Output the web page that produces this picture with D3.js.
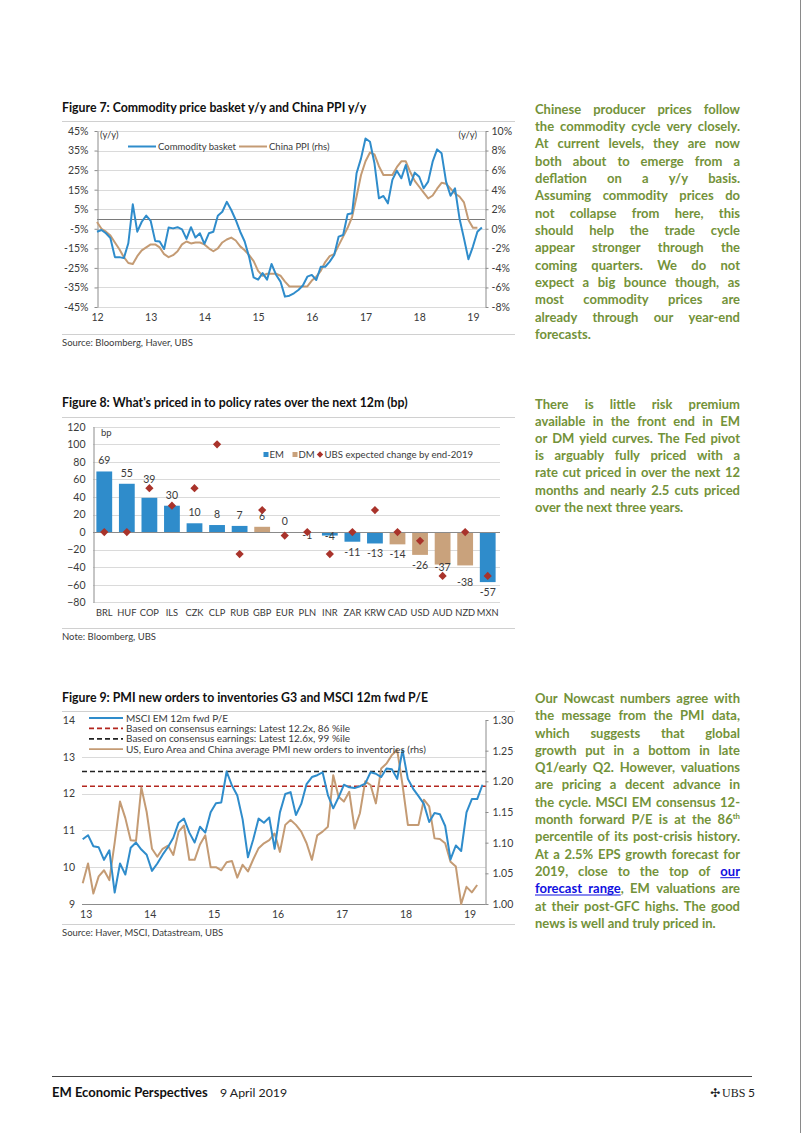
<!DOCTYPE html>
<html><head><meta charset="utf-8">
<script src="https://cdn.jsdelivr.net/npm/d3@7"></script>
<style>
body{margin:0;background:#fff}
svg{display:block}
</style></head><body>
<svg id="page" width="802" height="1133"></svg>
<script>
// ---------------- DATA ----------------
// Figure 7 (monthly, Jan 2012 onward)
const fig7Years = ["12","13","14","15","16","17","18","19"];
const fig7LeftTicks = [45,35,25,15,5,-5,-15,-25,-35,-45];
const fig7RightTicks = [10,8,6,4,2,0,-2,-4,-6,-8];
const commodityBasket = [
 -6.5,-5.6,-7.3,-9.8,-19.5,-19.5,-20,-12.4,7.5,-6.5,-1.4,1.7,
 -1,-11.2,-11.5,-15.3,-4.4,-4.8,-4.2,-5.3,-10.2,-4.2,-9.5,-7.3,
 -12.7,-7.3,-6.5,1.7,3.7,8.8,4.6,-0.5,-6.5,-11.5,-19.5,-29.9,
 -31,-27.7,-31,-23,-28.5,-32,-39.7,-39.2,-38,-36.3,-34,-29.5,
 -28.6,-31.2,-24.4,-24.4,-21.8,-18.4,-9,-8.2,2.4,2.9,23.4,31,
 41.2,39.5,28.5,10.6,11.8,8,20,24.7,20.8,27.6,17.4,23.7,
 21.6,15.7,19.1,29.3,35.6,33.6,19.1,11.9,15.7,0.3,-9.9,-20.6,
 -14.1,-6.5,-4.3];
const chinaPPI = [
 0.7,0.0,-0.3,-0.7,-1.4,-2.1,-2.9,-3.5,-3.6,-2.8,-2.2,-1.9,
 -1.6,-1.6,-1.9,-2.6,-2.9,-2.7,-2.3,-1.6,-1.3,-1.5,-1.4,-1.4,
 -1.6,-2.0,-2.3,-2.0,-1.4,-1.1,-0.9,-1.2,-1.8,-2.2,-2.7,-3.3,
 -4.3,-4.8,-4.6,-4.6,-4.6,-4.8,-5.4,-5.9,-5.9,-5.9,-5.9,-5.9,
 -5.3,-4.9,-4.3,-3.4,-2.8,-2.6,-1.7,-0.8,0.1,1.2,3.3,5.5,
 6.9,7.8,7.6,6.4,5.5,5.5,5.5,6.3,6.9,6.9,5.8,4.9,
 4.3,3.7,3.1,3.4,4.1,4.7,4.6,4.1,3.6,3.3,2.7,0.9,
 0.1,0.1];

// Figure 8
const fig8Categories = ["BRL","HUF","COP","ILS","CZK","CLP","RUB","GBP","EUR","PLN","INR","ZAR","KRW","CAD","USD","AUD","NZD","MXN"];
const fig8Priced = [69,55,39,30,10,8,7,6,0,-1,-4,-11,-13,-14,-26,-37,-38,-57];
const fig8Group  = ["EM","EM","EM","EM","EM","EM","EM","DM","DM","EM","EM","EM","EM","DM","DM","DM","DM","EM"];
const fig8UBS    = [0,0,50,30,50,100,-25,25,-4,0,-25,0,25,0,-10,-50,0,-50];
const fig8Ticks  = [120,100,80,60,40,20,0,-20,-40,-60,-80];

// Figure 9 (monthly, Jan 2013 onward)
const fig9Years = ["13","14","15","16","17","18","19"];
const fig9LeftTicks = [14,13,12,11,10,9];
const fig9RightTicks = [1.30,1.25,1.20,1.15,1.10,1.05,1.00];
const msciPE = [
 10.76,10.87,10.57,10.54,10.2,10.46,9.31,10.1,9.8,10.53,10.67,10.48,
 10.34,9.9,10.1,10.34,10.55,10.8,11.21,11.32,10.94,10.67,11.1,10.94,
 11.49,11.74,11.76,12.6,12.22,11.95,11.3,10.27,10.76,11.32,11.21,11.35,
 10.5,11.49,11.99,12.04,11.42,11.72,12.26,12.45,12.5,12.58,11.96,11.6,
 11.9,12.24,12.17,12.15,12.2,12.27,12.58,12.54,12.45,12.68,12.66,12.4,
 13.18,12.4,12.13,11.93,11.72,11.23,11.47,11.44,11.12,10.21,10.59,10.44,
 11.49,11.85,11.85,12.24];
const pmiRatio = [
 1.034,1.066,1.017,1.045,1.055,1.039,1.10,1.167,1.14,1.104,1.103,1.19,
 1.15,1.09,1.077,1.09,1.095,1.08,1.118,1.128,1.072,1.072,1.097,1.112,
 1.06,1.06,1.055,1.068,1.07,1.043,1.064,1.053,1.073,1.091,1.099,1.104,
 1.115,1.085,1.129,1.137,1.129,1.118,1.099,1.072,1.112,1.118,1.126,1.21,
 1.175,1.167,1.183,1.123,1.148,1.2,1.194,1.164,1.221,1.229,1.243,1.251,
 1.194,1.129,1.129,1.129,1.17,1.159,1.107,1.106,1.099,1.069,1.061,1.00,
 1.028,1.019,1.031];
const peConsensus86 = 12.2;
const peConsensus99 = 12.6;

// Text
const para1 = ["Chinese producer prices follow","the commodity cycle very closely.","At current levels, they are now","both about to emerge from a","deflation on a y/y basis.","Assuming commodity prices do","not collapse from here, this","should help the trade cycle","appear stronger through the","coming quarters. We do not","expect a big bounce though, as","most commodity prices are","already through our year-end","forecasts."];
const para2 = ["There is little risk premium","available in the front end in EM","or DM yield curves. The Fed pivot","is arguably fully priced with a","rate cut priced in over the next 12","months and nearly 2.5 cuts priced","over the next three years."];
const para3 = ["Our Nowcast numbers agree with","the message from the PMI data,","which suggests that global","growth put in a bottom in late","Q1/early Q2. However, valuations","are pricing a decent advance in","the cycle. MSCI EM consensus 12-","month forward P/E is at the 86^th","percentile of its post-crisis history.","At a 2.5% EPS growth forecast for","2019, close to the top of {our}","{forecast} {range}, EM valuations are","at their post-GFC highs. The good","news is well and truly priced in."];

// ---------------- STYLE ----------------
const FONT = "Lato, 'Open Sans', sans-serif";
const TXT = "#3a3a3a";
const BLUE = "#2f8ccb";
const BROWN = "#c49b74";
const TAN = "#c9a27c";
const DIAM = "#a9332b";
const GRID = "#dadada";
const AXIS = "#8c8c8c";
const GREEN = "#739239";
const LINK = "#1010e0";

const svg = d3.select("#page").attr("font-family", FONT);
svg.append("rect").attr("width",802).attr("height",1133).attr("fill","#fff");
svg.append("line").attr("x1",800.5).attr("x2",800.5).attr("y1",0).attr("y2",1133).attr("stroke","#8a8a8a");

function hline(g,x1,x2,y,c,w){ return g.append("line").attr("x1",x1).attr("x2",x2).attr("y1",y).attr("y2",y).attr("stroke",c).attr("stroke-width",w||1); }
function txt(g,s,x,y,o){ o=o||{}; return g.append("text").attr("x",x).attr("y",y).text(s)
  .attr("font-size",o.fs||10.5).attr("fill",o.fill||TXT).attr("text-anchor",o.anchor||"start")
  .attr("font-weight",o.bold?"bold":"normal"); }
function styleAxis(a, showDomain, fs){
  a.select(".domain").attr("stroke", showDomain?AXIS:"none");
  a.selectAll(".tick line").attr("stroke",AXIS);
  a.selectAll("text").attr("fill",TXT).attr("font-size",fs||10.5).attr("font-family",FONT);
}

// ---------------- FIGURE 7 ----------------
{
  const g = svg.append("g");
  txt(g,"Figure 7: Commodity price basket y/y and China PPI y/y",62,111.5,{fs:12.3,bold:true,fill:"#111"});
  hline(g,62,515,121.5,"#d0d0d0");
  const x = d3.scaleLinear().domain([0,86.7]).range([97,485]);
  const yL = d3.scaleLinear().domain([-45,45]).range([307,131]);
  const yR = d3.scaleLinear().domain([-8,10]).range([307,131]);
  g.append("g").selectAll("line").data(fig7LeftTicks).join("line")
    .attr("x1",97).attr("x2",485).attr("y1",d=>Math.round(yL(d))+.5).attr("y2",d=>Math.round(yL(d))+.5)
    .attr("stroke",GRID);
  hline(g,97,485,Math.round(yL(0))+.5,"#7a7a7a");
  const ax = g.append("g").attr("transform","translate(97.5,0)")
    .call(d3.axisLeft(yL).tickValues(fig7LeftTicks).tickFormat(d=>d+"%").tickSize(3).tickSizeOuter(0).tickPadding(6));
  styleAxis(ax,true);
  const axr = g.append("g").attr("transform","translate(485.5,0)")
    .call(d3.axisRight(yR).tickValues(fig7RightTicks).tickFormat(d=>d+"%").tickSize(3).tickSizeOuter(0).tickPadding(3));
  styleAxis(axr,true);
  const axb = g.append("g").attr("transform","translate(0,307)")
    .call(d3.axisBottom(x).tickValues(fig7Years.map((d,i)=>i*12)).tickFormat((d,i)=>fig7Years[i]).tickSize(0).tickPadding(7));
  styleAxis(axb,false);
  const line = d3.line().x((d,i)=>x(i));
  g.append("path").datum(chinaPPI).attr("fill","none").attr("stroke",BROWN).attr("stroke-width",2)
    .attr("stroke-linejoin","round").attr("d",line.y(d=>yR(d)));
  g.append("path").datum(commodityBasket).attr("fill","none").attr("stroke",BLUE).attr("stroke-width",2)
    .attr("stroke-linejoin","round").attr("d",line.y(d=>yL(d)));
  txt(g,"(y/y)",100,138,{fs:9.5});
  txt(g,"(y/y)",477,138,{fs:9.5,anchor:"end"});
  hline(g,128,156,146.5,BLUE,2); txt(g,"Commodity basket",158,150,{fs:9.5});
  hline(g,239,267,146.5,BROWN,2); txt(g,"China PPI (rhs)",269,150,{fs:9.5});
  hline(g,62,515,334.5,"#d0d0d0");
  txt(g,"Source:  Bloomberg, Haver, UBS",62,346,{fs:9.5});
}

// ---------------- FIGURE 8 ----------------
{
  const g = svg.append("g");
  txt(g,"Figure 8: What's priced in to policy rates over the next 12m (bp)",62,406.5,{fs:12.3,bold:true,fill:"#111"});
  hline(g,62,515,417.5,"#d0d0d0");
  const x = d3.scaleBand().domain(fig8Categories).range([93,499]).paddingInner(0.3).paddingOuter(0.15);
  const y = d3.scaleLinear().domain([-80,120]).range([602.3,426.7]);
  g.append("g").selectAll("line").data(fig8Ticks.filter(d=>d!==0)).join("line")
    .attr("x1",93).attr("x2",500).attr("y1",d=>Math.round(y(d))+.5).attr("y2",d=>Math.round(y(d))+.5).attr("stroke",GRID);
  const rows = fig8Categories.map((c,i)=>({c, v:fig8Priced[i], grp:fig8Group[i], u:fig8UBS[i]}));
  g.append("g").selectAll("rect").data(rows.filter(d=>d.v!==0)).join("rect")
    .attr("x",d=>x(d.c)).attr("width",x.bandwidth())
    .attr("y",d=>y(Math.max(0,d.v))).attr("height",d=>Math.abs(y(d.v)-y(0)))
    .attr("fill",d=>d.grp==="EM"?BLUE:TAN);
  hline(g,93,500,Math.round(y(0))+.5,"#8a8a8a");
  const ax = g.append("g").attr("transform","translate(93.5,0)")
    .call(d3.axisLeft(y).tickValues(fig8Ticks).tickSize(0).tickSizeOuter(0).tickPadding(8));
  styleAxis(ax,true);
  const axb = g.append("g").attr("transform","translate(0,602)")
    .call(d3.axisBottom(x).tickSize(0).tickPadding(7));
  styleAxis(axb,false,9.3);
  const nudge = {COP:-8, PLN:-8, INR:-10, AUD:-8, NZD:7};
  g.append("g").selectAll("text").data(rows).join("text")
    .attr("x",d=>x(d.c)+x.bandwidth()/2)
    .attr("y",d=>(d.v>=0? y(d.v)-7 : y(d.v)+14) + (nudge[d.c]||0))
    .attr("text-anchor","middle").attr("font-size",10.5).attr("fill",TXT).text(d=>d.v);
  const diamond = d3.symbol().type(d3.symbolSquare).size(34);
  g.append("g").selectAll("path").data(rows).join("path")
    .attr("d",diamond).attr("fill",DIAM)
    .attr("transform",d=>`translate(${x(d.c)+x.bandwidth()/2},${y(d.u)}) rotate(45)`);
  txt(g,"bp",101,436,{fs:9.5});
  // legend
  g.append("rect").attr("x",263.5).attr("y",452).attr("width",5).attr("height",5).attr("fill",BLUE);
  txt(g,"EM",269.5,458,{fs:9.6});
  g.append("rect").attr("x",292.5).attr("y",452).attr("width",5).attr("height",5).attr("fill",TAN);
  txt(g,"DM",298.5,458,{fs:9.6});
  g.append("path").attr("d",d3.symbol().type(d3.symbolSquare).size(20)).attr("fill",DIAM)
    .attr("transform","translate(320,454.5) rotate(45)");
  txt(g,"UBS expected change by end-2019",324.5,458,{fs:9.6});
  hline(g,62,515,628.5,"#d0d0d0");
  txt(g,"Note: Bloomberg, UBS",62,640,{fs:9.5});
}

// ---------------- FIGURE 9 ----------------
{
  const g = svg.append("g");
  txt(g,"Figure 9: PMI new orders to inventories G3 and MSCI 12m fwd P/E",62,701.5,{fs:12.3,bold:true,fill:"#111"});
  hline(g,62,515,711.5,"#d0d0d0");
  const x = d3.scaleLinear().domain([0,75]).range([82.7,482.5]);
  const yL = d3.scaleLinear().domain([9,14]).range([904,720]);
  const yR = d3.scaleLinear().domain([1.0,1.3]).range([904,720]);
  g.append("g").selectAll("line").data([13,12,11,10]).join("line")
    .attr("x1",82).attr("x2",485.7).attr("y1",d=>Math.round(yL(d))+.5).attr("y2",d=>Math.round(yL(d))+.5).attr("stroke",GRID);
  const ax = g.append("g").attr("transform","translate(82,0)")
    .call(d3.axisLeft(yL).tickValues(fig9LeftTicks).tickFormat(d3.format("d")).tickSize(0).tickSizeOuter(0).tickPadding(7));
  styleAxis(ax,false);
  const axr = g.append("g").attr("transform","translate(485.5,0)")
    .call(d3.axisRight(yR).tickValues(fig9RightTicks).tickFormat(d3.format(".2f")).tickSize(3).tickSizeOuter(0).tickPadding(4));
  styleAxis(axr,true);
  hline(g,82,485.7,904.5,AXIS);
  const axb = g.append("g").attr("transform","translate(3,904)")
    .call(d3.axisBottom(x).tickValues(fig9Years.map((d,i)=>i*12)).tickFormat((d,i)=>fig9Years[i]).tickSize(0).tickPadding(7));
  styleAxis(axb,false);
  // dashed reference lines
  hline(g,82,485.7,yL(peConsensus86),"#b3261e",1.6).attr("stroke-dasharray","5,3");
  hline(g,82,485.7,yL(peConsensus99),"#222",1.6).attr("stroke-dasharray","5,3");
  const line = d3.line().x((d,i)=>x(i));
  g.append("path").datum(pmiRatio).attr("fill","none").attr("stroke",BROWN).attr("stroke-width",2)
    .attr("stroke-linejoin","round").attr("d",line.y(d=>yR(d)));
  g.append("path").datum(msciPE).attr("fill","none").attr("stroke",BLUE).attr("stroke-width",2)
    .attr("stroke-linejoin","round").attr("d",line.y(d=>yL(d)));
  // legend
  const leg = [
    {t:"MSCI EM 12m fwd P/E", c:BLUE, dash:null},
    {t:"Based on consensus earnings: Latest 12.2x, 86 %ile", c:"#b3261e", dash:"5,3"},
    {t:"Based on consensus earnings: Latest 12.6x, 99 %ile", c:"#222", dash:"5,3"},
    {t:"US, Euro Area and China average PMI new orders to inventories (rhs)", c:BROWN, dash:null}
  ];
  leg.forEach((d,i)=>{
    const yy = 718 + i*10.4;
    const l = hline(g,89,123,yy,d.c,1.8); if(d.dash) l.attr("stroke-dasharray",d.dash);
    txt(g,d.t,126,yy+3.5,{fs:10});
  });
  hline(g,62,515,924.5,"#d0d0d0");
  txt(g,"Source:  Haver, MSCI, Datastream, UBS",62,936,{fs:9.5});
}

// ---------------- PARAGRAPHS ----------------
function parseWord(w){
  const segs=[]; const re=/\{([^}]*)\}|\^([A-Za-z]+)|([^{^]+)/g; let m;
  while((m=re.exec(w))){
    if(m[1]!==undefined) segs.push({t:m[1],k:"link"});
    else if(m[2]!==undefined) segs.push({t:m[2],k:"sup"});
    else segs.push({t:m[3],k:"n"});
  }
  return segs;
}
function paragraph(lines, x0, x1, yc0, lh){
  const fs = 13;
  const g = svg.append("g").attr("font-family",FONT).attr("font-weight","bold").attr("font-size",fs).attr("fill",GREEN);
  lines.forEach((ln,li)=>{
    const yb = yc0 + li*lh + 4.6;
    const words = ln.split(" ").map(w=>{
      const t = g.append("text").attr("y",yb);
      const segs = parseWord(w);
      let offs=0; const links=[];
      segs.forEach(s=>{
        const ts = t.append("tspan").text(s.t);
        if(s.k==="link") ts.attr("fill",LINK);
        if(s.k==="sup") ts.attr("font-size",fs*0.6).attr("dy",-5);
        const wdt = ts.node().getComputedTextLength();
        if(s.k==="link") links.push([offs,offs+wdt]);
        offs += wdt;
      });
      return {t, w:t.node().getComputedTextLength(), links};
    });
    const total = d3.sum(words,d=>d.w);
    const last = li===lines.length-1;
    const gap = (last||words.length<2) ? fs*0.25 : (x1-x0-total)/(words.length-1);
    let cx = x0; const ul=[];
    words.forEach(d=>{
      d.t.attr("x",cx);
      d.links.forEach(l=>ul.push([cx+l[0],cx+l[1]]));
      cx += d.w + gap;
    });
    if(ul.length){
      const merged=[ul[0].slice()];
      for(let i=1;i<ul.length;i++){ const p=merged[merged.length-1]; if(ul[i][0]-p[1] < gap+1) p[1]=ul[i][1]; else merged.push(ul[i].slice()); }
      merged.forEach(s=>g.append("line").attr("x1",s[0]).attr("x2",s[1]).attr("y1",yb+1.8).attr("y2",yb+1.8).attr("stroke",LINK).attr("stroke-width",1));
    }
  });
}
paragraph(para1,535,740,109,17.33);
paragraph(para2,535,740,404,17.22);
paragraph(para3,535,740,698.3,17.3);

// ---------------- FOOTER ----------------
{
  const g = svg.append("g");
  hline(g,52,752,1076.5,"#444");
  txt(g,"EM Economic Perspectives",52,1096.5,{fs:13,bold:true,fill:"#111"});
  txt(g,"9 April 2019",220,1096.5,{fs:12.3,fill:"#222"});
  txt(g,"\u2723",710,1096.5,{fs:12,fill:"#222"}).attr("font-family","DejaVu Sans");
  txt(g,"UBS",722,1096.5,{fs:12,fill:"#222"}).attr("font-family","'Liberation Serif', serif");
  txt(g,"5",748,1096.5,{fs:12,fill:"#222"});
}
</script>
</body></html>
